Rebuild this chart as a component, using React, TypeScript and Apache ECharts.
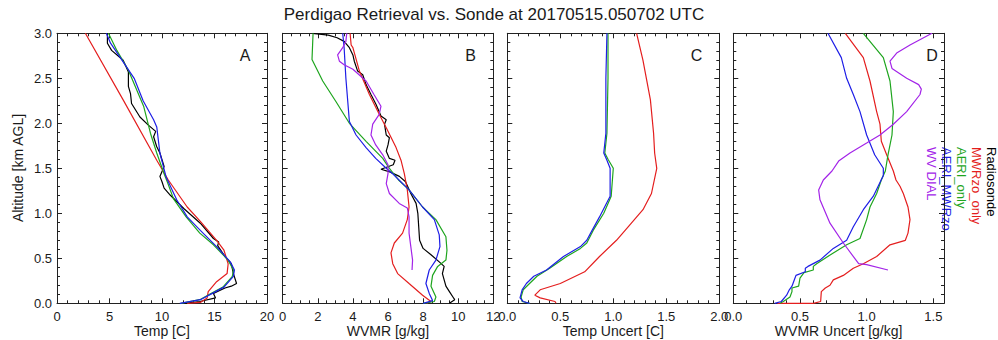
import React, { useEffect, useRef } from 'react';
import * as echarts from 'echarts';

type Pt = [number, number];

const TITLE = 'Perdigao Retrieval vs. Sonde at 20170515.050702 UTC';
const PANEL_LETTERS = ['A', 'B', 'C', 'D'];
const X_NAMES = ['Temp [C]', 'WVMR [g/kg]', 'Temp Uncert [C]', 'WVMR Uncert [g/kg]'];
const Y_NAME = 'Altitude [km AGL]';
const LEGEND = ['Radiosonde', 'MWRzo_only', 'AERI_only', 'AERI_MWRzo', 'WV DIAL'];
const COLORS = ['#000000', '#e41e1e', '#1ea51e', '#1e1ee6', '#a324e8'];

const X_MIN = [0, 0, 0, 0];
const X_MAX = [20, 12, 2, 1.58];
const X_INTERVAL = [5, 2, 0.5, 0.5];
const X_MINOR = [5, 4, 5, 5];
const X_DECIMALS = [0, 0, 1, 1];
const Y_MIN = 0;
const Y_MAX = 3;
const Y_INTERVAL = 0.5;

// Panel A: temperature [C] vs altitude [km]
const tempRadiosonde: Pt[] = [[4.8,3.0],[4.8,2.89],[5.2,2.81],[6.3,2.70],[6.8,2.57],[6.8,2.41],[7.0,2.33],[7.1,2.22],[7.9,2.07],[8.7,1.98],[9.4,1.91],[9.2,1.85],[9.5,1.74],[9.8,1.67],[10.2,1.52],[9.8,1.41],[10.0,1.35],[10.2,1.28],[10.8,1.20],[12.1,1.05],[13.65,0.89],[14.9,0.72],[15.4,0.68],[15.3,0.64],[16.0,0.52],[16.6,0.44],[16.8,0.33],[17.1,0.22],[16.6,0.19],[16.0,0.17],[14.9,0.11],[15.1,0.06],[13.6,0.02],[12.1,0]];
const tempMwrOnly: Pt[] = [[2.7,3.0],[6.3,2.26],[9.5,1.59],[10.6,1.37],[12.4,1.07],[13.65,0.91],[15.2,0.70],[15.9,0.59],[16.3,0.44],[16.2,0.33],[15.2,0.24],[14.4,0.13],[14.3,0.06],[13.65,0.01],[12.4,0]];
const tempAeriOnly: Pt[] = [[4.9,3.0],[5.7,2.81],[6.8,2.59],[8.25,2.19],[8.9,1.89],[9.5,1.67],[10.2,1.44],[10.5,1.35],[11.1,1.16],[12.3,0.96],[13.6,0.78],[14.9,0.65],[16.3,0.48],[16.8,0.37],[16.7,0.30],[15.8,0.18],[14.7,0.11],[13.6,0.04],[11.8,0]];
const tempAeriMwr: Pt[] = [[4.7,3.0],[5.1,2.89],[6.6,2.63],[7.35,2.5],[8.2,2.25],[9.2,2.04],[9.5,1.96],[9.8,1.67],[10.4,1.40],[11.4,1.15],[12.4,0.96],[13.65,0.81],[15.2,0.63],[16.5,0.46],[16.9,0.37],[16.8,0.30],[15.9,0.18],[14.8,0.11],[13.65,0.04],[11.7,0]];

// Panel B: WVMR [g/kg]
const wvRadiosonde: Pt[] = [[1.7,3.0],[2.6,2.98],[3.1,2.95],[3.5,2.91],[3.8,2.84],[4.0,2.76],[4.08,2.69],[4.27,2.58],[4.56,2.54],[4.75,2.43],[5.03,2.32],[5.32,2.21],[5.6,2.08],[5.9,2.04],[5.8,1.99],[5.9,1.87],[6.08,1.84],[6.0,1.76],[5.9,1.69],[6.08,1.61],[6.4,1.59],[6.3,1.54],[5.6,1.49],[6.1,1.46],[6.65,1.41],[7.0,1.35],[7.3,1.22],[7.6,1.11],[7.7,1.0],[7.75,0.85],[7.8,0.70],[8.0,0.61],[8.45,0.54],[8.92,0.46],[9.2,0.41],[9.1,0.33],[9.2,0.26],[9.3,0.19],[9.5,0.13],[9.7,0.07],[9.8,0.04],[9.5,0]];
const wvMwrOnly: Pt[] = [[3.84,3.0],[3.9,2.87],[4.0,2.84],[4.37,2.58],[4.94,2.32],[5.5,2.10],[5.9,1.95],[6.46,1.73],[6.74,1.59],[6.93,1.44],[7.1,1.26],[7.2,1.07],[7.1,0.93],[6.83,0.78],[6.36,0.67],[6.17,0.56],[6.27,0.44],[6.55,0.33],[7.2,0.22],[7.97,0.09],[8.45,0.02],[8.2,0]];
const wvAeriOnly: Pt[] = [[1.73,3.0],[1.67,2.71],[2.28,2.47],[3.04,2.24],[3.8,2.0],[4.75,1.8],[5.7,1.61],[6.08,1.50],[6.6,1.37],[7.2,1.26],[7.97,1.07],[8.73,0.93],[9.3,0.74],[9.36,0.59],[9.3,0.48],[8.83,0.41],[8.54,0.31],[8.45,0.19],[8.73,0.07],[8.64,0.02],[8.0,0]];
const wvAeriMwr: Pt[] = [[3.42,3.0],[3.5,2.84],[3.6,2.5],[3.8,2.02],[4.18,1.87],[4.75,1.73],[5.3,1.61],[5.9,1.50],[6.27,1.44],[7.2,1.26],[7.97,1.07],[8.64,0.93],[8.92,0.76],[8.96,0.63],[8.73,0.48],[8.35,0.37],[8.16,0.22],[8.35,0.11],[8.54,0.03],[8.0,0]];
const wvDial: Pt[] = [[3.65,3.0],[3.6,2.91],[3.42,2.84],[3.13,2.76],[3.23,2.69],[3.5,2.65],[4.0,2.60],[4.75,2.47],[5.2,2.32],[5.6,2.19],[5.5,2.10],[5.13,1.99],[5.03,1.87],[5.3,1.76],[5.7,1.65],[6.0,1.54],[6.0,1.44],[5.9,1.33],[6.08,1.22],[6.64,1.11],[7.1,1.06],[7.2,0.96],[7.2,0.78],[7.3,0.63],[7.4,0.48],[7.37,0.37]];

// Panel C: temperature uncertainty [C]
const tuncMwrOnly: Pt[] = [[1.22,3.0],[1.28,2.70],[1.35,2.26],[1.38,1.89],[1.39,1.67],[1.41,1.50],[1.36,1.22],[1.28,1.04],[1.14,0.85],[1.03,0.70],[0.87,0.52],[0.73,0.35],[0.50,0.22],[0.31,0.15],[0.26,0.09],[0.31,0.06],[0.45,0.02],[0.46,0]];
const tuncAeriOnly: Pt[] = [[0.95,3.0],[0.95,2.5],[0.94,1.89],[0.92,1.67],[0.95,1.6],[1.0,1.50],[0.98,1.19],[0.91,1.0],[0.81,0.81],[0.75,0.67],[0.69,0.61],[0.56,0.52],[0.40,0.39],[0.28,0.30],[0.21,0.22],[0.15,0.15],[0.13,0.07],[0.14,0.02],[0.21,0]];
const tuncAeriMwr: Pt[] = [[0.94,3.0],[0.93,2.5],[0.93,1.89],[0.91,1.67],[0.94,1.59],[0.97,1.50],[0.97,1.19],[0.87,0.96],[0.80,0.81],[0.75,0.70],[0.69,0.63],[0.53,0.52],[0.37,0.37],[0.25,0.30],[0.18,0.22],[0.14,0.15],[0.12,0.06],[0.15,0.02],[0.21,0]];

// Panel D: WVMR uncertainty [g/kg]
const wuncMwrOnly: Pt[] = [[0.84,3.0],[0.975,2.73],[1.025,2.47],[1.075,2.13],[1.1,1.99],[1.11,1.8],[1.15,1.65],[1.2,1.47],[1.22,1.37],[1.25,1.3],[1.275,1.22],[1.31,1.07],[1.325,0.93],[1.31,0.78],[1.29,0.70],[1.175,0.65],[1.075,0.52],[0.975,0.44],[0.9,0.39],[0.825,0.31],[0.75,0.26],[0.725,0.20],[0.69,0.17],[0.66,0.13],[0.655,0.02],[0.6,0],[0.33,0]];
const wuncAeriOnly: Pt[] = [[0.975,3.0],[1.125,2.73],[1.175,2.47],[1.2,2.13],[1.19,1.87],[1.16,1.65],[1.14,1.47],[1.11,1.37],[1.075,1.22],[1.025,1.07],[1.0,0.93],[0.95,0.72],[0.85,0.65],[0.75,0.56],[0.625,0.44],[0.6,0.41],[0.6,0.37],[0.53,0.34],[0.5,0.28],[0.49,0.19],[0.44,0.17],[0.44,0.13],[0.425,0.07],[0.375,0.02],[0.35,0]];
const wuncAeriMwr: Pt[] = [[0.71,3.0],[0.81,2.73],[0.85,2.5],[0.9,2.32],[0.95,2.13],[1.0,1.87],[1.06,1.65],[1.125,1.5],[1.125,1.42],[1.05,1.19],[0.975,1.04],[0.9,0.85],[0.85,0.70],[0.75,0.61],[0.65,0.48],[0.56,0.41],[0.54,0.39],[0.54,0.35],[0.47,0.31],[0.46,0.27],[0.44,0.19],[0.42,0.15],[0.40,0.09],[0.36,0.02],[0.31,0]];
const wuncDial: Pt[] = [[1.49,3.0],[1.325,2.87],[1.225,2.78],[1.175,2.69],[1.19,2.61],[1.30,2.50],[1.39,2.43],[1.41,2.38],[1.40,2.32],[1.30,2.13],[1.2,1.99],[1.1,1.87],[1.0,1.78],[0.875,1.67],[0.79,1.58],[0.74,1.47],[0.675,1.37],[0.64,1.26],[0.65,1.15],[0.725,0.89],[0.825,0.67],[0.94,0.44],[1.0,0.43],[1.16,0.37]];

// series per panel: [legend index, data]
const PANEL_SERIES: [number, Pt[]][][] = [
  [[0, tempRadiosonde], [1, tempMwrOnly], [2, tempAeriOnly], [3, tempAeriMwr]],
  [[0, wvRadiosonde], [1, wvMwrOnly], [2, wvAeriOnly], [3, wvAeriMwr], [4, wvDial]],
  [[1, tuncMwrOnly], [2, tuncAeriOnly], [3, tuncAeriMwr]],
  [[1, wuncMwrOnly], [2, wuncAeriOnly], [3, wuncAeriMwr], [4, wuncDial]],
];

const FONT = '"Liberation Sans", Arial, Helvetica, sans-serif';
const TEXT = '#1a1a1a';
const AXIS = '#222222';
const GRID_LEFT = [57, 282.7, 507.3, 733.3];
const GRID_WIDTH = [210, 210.6, 212, 210.7];
const GRID_TOP = 33.3;
const GRID_HEIGHT = 270;
const LETTER_X = [245, 470.5, 696.5, 932];
const LEGEND_X = [991.5, 976.5, 961.5, 946.5, 931.5];

function isMultiple(v: number, step: number) {
  return Math.abs(v / step - Math.round(v / step)) < 1e-6;
}

export default function App() {
  const ref = useRef<HTMLDivElement>(null);
  useEffect(() => {
    if (!ref.current) return;
    const chart = echarts.init(ref.current, undefined, { renderer: 'svg' });
    const tickStyle = { color: AXIS, width: 1 };
    const grid: any[] = [];
    const xAxis: any[] = [];
    const yAxis: any[] = [];
    const series: any[] = [];
    for (let i = 0; i < 4; i++) {
      grid.push({ left: GRID_LEFT[i], width: GRID_WIDTH[i], top: GRID_TOP, height: GRID_HEIGHT, containLabel: false });
      const common = {
        gridIndex: i, type: 'value', min: X_MIN[i], max: X_MAX[i], interval: X_INTERVAL[i],
        axisLine: { show: true, onZero: false, lineStyle: tickStyle },
        axisTick: { show: true, inside: true, length: 5, lineStyle: tickStyle },
        minorTick: { show: true, splitNumber: X_MINOR[i], length: 3, lineStyle: tickStyle },
        splitLine: { show: false },
      };
      xAxis.push({
        ...common, position: 'bottom',
        axisLabel: {
          show: true, margin: 7, fontSize: 13, color: TEXT, fontFamily: FONT,
          formatter: (v: number) => (isMultiple(v, X_INTERVAL[i]) ? v.toFixed(X_DECIMALS[i]) : ''),
        },
      });
      xAxis.push({ ...common, position: 'top', axisLabel: { show: false } });
      const ycommon = {
        gridIndex: i, type: 'value', min: Y_MIN, max: Y_MAX, interval: Y_INTERVAL,
        axisLine: { show: true, onZero: false, lineStyle: tickStyle },
        axisTick: { show: true, inside: true, length: 5, lineStyle: tickStyle },
        minorTick: { show: true, splitNumber: 5, length: 3, lineStyle: tickStyle },
        splitLine: { show: false },
      };
      yAxis.push({
        ...ycommon, position: 'left',
        axisLabel: { show: i === 0, margin: 5, fontSize: 13, color: TEXT, fontFamily: FONT, formatter: (v: number) => v.toFixed(1) },
      });
      yAxis.push({ ...ycommon, position: 'right', axisLabel: { show: false } });
      for (const [li, data] of PANEL_SERIES[i]) {
        series.push({
          type: 'line', name: LEGEND[li], xAxisIndex: i * 2, yAxisIndex: i * 2, data,
          showSymbol: false, symbol: 'none', silent: true, clip: true,
          lineStyle: { color: COLORS[li], width: 1.2 },
        });
      }
    }
    const graphic: any[] = [];
    graphic.push({
      type: 'text', x: 494, y: 14,
      style: { text: TITLE, fill: TEXT, fontSize: 17, fontFamily: FONT, align: 'center', verticalAlign: 'middle', textAlign: 'center', textVerticalAlign: 'middle' },
    });
    for (let i = 0; i < 4; i++) {
      graphic.push({
        type: 'text', x: LETTER_X[i], y: 55,
        style: { text: PANEL_LETTERS[i], fill: TEXT, fontSize: 16, fontFamily: FONT, align: 'center', verticalAlign: 'middle', textAlign: 'center', textVerticalAlign: 'middle' },
      });
      graphic.push({
        type: 'text', x: GRID_LEFT[i] + GRID_WIDTH[i] / 2, y: 331,
        style: { text: X_NAMES[i], fill: TEXT, fontSize: 14, fontFamily: FONT, align: 'center', verticalAlign: 'middle', textAlign: 'center', textVerticalAlign: 'middle' },
      });
    }
    graphic.push({
      type: 'text', x: 17.5, y: 168, rotation: Math.PI / 2,
      style: { text: Y_NAME, fill: TEXT, fontSize: 14, fontFamily: FONT, align: 'center', verticalAlign: 'middle', textAlign: 'center', textVerticalAlign: 'middle' },
    });
    for (let k = 0; k < LEGEND.length; k++) {
      graphic.push({
        type: 'text', x: LEGEND_X[k], y: 147, rotation: -Math.PI / 2,
        style: { text: LEGEND[k], fill: COLORS[k], fontSize: 13, fontFamily: FONT, align: 'left', verticalAlign: 'middle', textAlign: 'left', textVerticalAlign: 'middle' },
      });
    }
    chart.setOption({
      animation: false,
      backgroundColor: '#ffffff',
      textStyle: { fontFamily: FONT },
      grid, xAxis, yAxis, series, graphic,
    });
    return () => chart.dispose();
  }, []);
  return <div ref={ref} style={{ position: 'absolute', left: 0, top: 0, width: 998, height: 340 }} />;
}
